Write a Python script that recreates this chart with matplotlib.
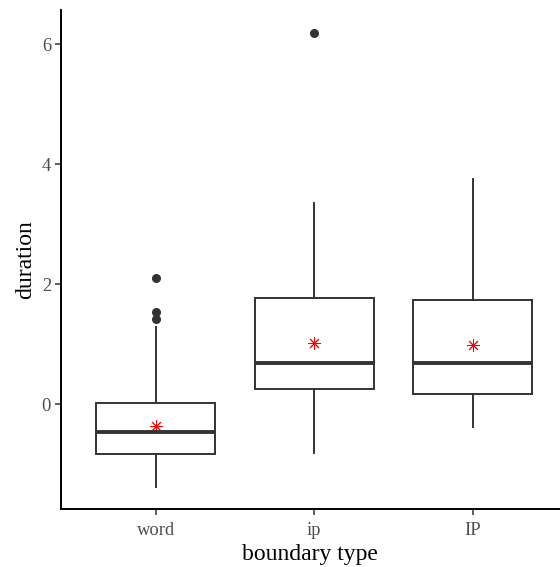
import matplotlib.pyplot as plt

plt.rcParams['font.family'] = ['Liberation Serif', 'DejaVu Serif']

categories = ['word', 'ip', 'IP']
whisker_low = [-1.38, -0.81, -0.39]
q1 = [-0.83, 0.245, 0.17]
medians = [-0.46, 0.69, 0.69]
q3 = [0.01, 1.77, 1.74]
whisker_high = [1.28, 3.36, 3.75]
outliers = [[2.10, 1.53, 1.41], [6.19], []]
means = [-0.36, 1.02, 0.98]

stats = []
for i, cat in enumerate(categories):
    stats.append({
        'label': cat,
        'whislo': whisker_low[i],
        'q1': q1[i],
        'med': medians[i],
        'q3': q3[i],
        'whishi': whisker_high[i],
        'fliers': outliers[i],
    })

fig = plt.figure(figsize=(5.6, 5.67), dpi=100)
ax = fig.add_axes([60.7 / 560, 1 - 509.3 / 567, (560 - 60.7) / 560, (509.3 - 10) / 567])

line_col = '#333333'
positions = [1, 2, 3]
ax.bxp(
    stats, positions=positions, widths=0.75, showcaps=False, patch_artist=True,
    boxprops=dict(facecolor='white', edgecolor=line_col, linewidth=1.4),
    whiskerprops=dict(color=line_col, linewidth=1.4),
    medianprops=dict(color=line_col, linewidth=2.8, solid_capstyle='butt'),
    flierprops=dict(marker='o', markerfacecolor=line_col, markeredgecolor=line_col,
                    markersize=5.5, linestyle='none'),
)
# group means as red asterisks
ax.plot(positions, means, linestyle='none', marker=(8, 2, 0), color='red',
        markersize=9, markeredgewidth=0.7)

ax.set_xlim(0.4, 3.55)
ax.set_ylim(-1.755, 6.57)
ax.set_yticks([0, 2, 4, 6])
ax.set_xticks(positions)
ax.set_xticklabels(categories)

for side in ['top', 'right']:
    ax.spines[side].set_visible(False)
for side in ['left', 'bottom']:
    ax.spines[side].set_linewidth(1.4)
    ax.spines[side].set_color('black')

ax.tick_params(axis='both', length=4, width=1.1, color='#333333',
               labelsize=13.3, labelcolor='#4D4D4D')
ax.tick_params(axis='x', pad=5)
ax.tick_params(axis='y', pad=3)

ax.set_xlabel('boundary type', fontsize=17, color='black', labelpad=4)
ax.set_ylabel('duration', fontsize=17, color='black', labelpad=4)

fig.savefig('out.png', dpi=100)
